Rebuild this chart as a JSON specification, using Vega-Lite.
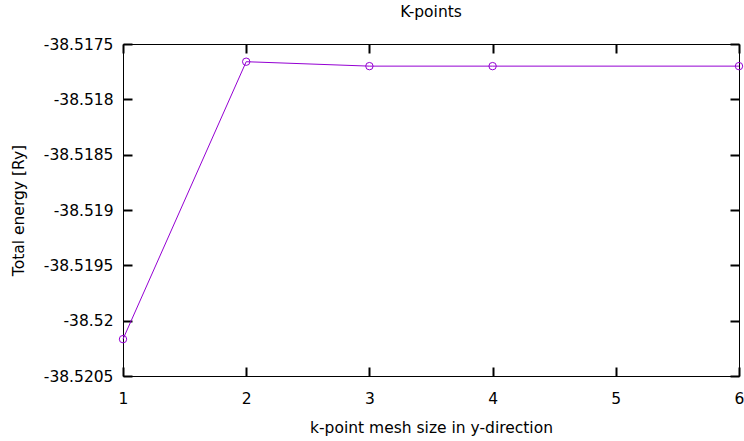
{
  "$schema": "https://vega.github.io/schema/vega-lite/v6.json",
  "width": 616,
  "height": 332,
  "autosize": "none",
  "padding": {"left": 123, "top": 44, "right": 5, "bottom": 65},
  "background": "white",
  "title": {"text": "K-points", "font": "DejaVu Sans", "fontSize": 15.5, "fontWeight": "normal", "color": "black", "anchor": "middle", "offset": 17},
  "config": {
    "view": {"stroke": "black", "strokeWidth": 1},
    "axis": {"domain": false, "grid": false, "ticks": true, "zindex": 1, "tickColor": "black", "tickOpacity": 1, "tickSize": 9, "tickWidth": 2, "offset": -9, "labelFlush": false, "labelOverlap": false, "labelFont": "DejaVu Sans", "labelFontSize": 15.5, "labelColor": "black", "titleFont": "DejaVu Sans", "titleFontSize": 15.5, "titleFontWeight": "normal", "titleColor": "black"}
  },
  "data": {"values": [
    {"k": 1, "E": -38.520167},
    {"k": 2, "E": -38.51766},
    {"k": 3, "E": -38.5177},
    {"k": 4, "E": -38.5177},
    {"k": 6, "E": -38.5177}
  ]},
  "layer": [
    {
      "mark": {"type": "line", "color": "#9400d3", "strokeWidth": 1},
      "encoding": {
        "x": {"field": "k", "type": "quantitative", "scale": {"domain": [1, 6], "nice": false, "zero": false},
              "axis": {"orient": "bottom", "values": [1, 2, 3, 4, 5, 6], "labelExpr": "toString(datum.value)", "labelPadding": 15.5, "title": "k-point mesh size in y-direction", "titlePadding": 13}},
        "y": {"field": "E", "type": "quantitative", "scale": {"domain": [-38.5205, -38.5175], "nice": false, "zero": false},
              "axis": {"orient": "left", "values": [-38.5205, -38.52, -38.5195, -38.519, -38.5185, -38.518, -38.5175], "labelExpr": "toString(datum.value)", "labelPadding": 10, "title": "Total energy [Ry]", "titlePadding": 17}}
      }
    },
    {
      "mark": {"type": "point", "shape": "circle", "filled": false, "color": "#9400d3", "size": 55, "strokeWidth": 1, "opacity": 1},
      "encoding": {
        "x": {"field": "k", "type": "quantitative", "axis": {"orient": "top", "values": [1, 2, 3, 4, 5, 6], "labels": false, "title": null}},
        "y": {"field": "E", "type": "quantitative", "axis": {"orient": "right", "values": [-38.5205, -38.52, -38.5195, -38.519, -38.5185, -38.518, -38.5175], "labels": false, "title": null}}
      }
    }
  ],
  "resolve": {"axis": {"x": "independent", "y": "independent"}}
}
